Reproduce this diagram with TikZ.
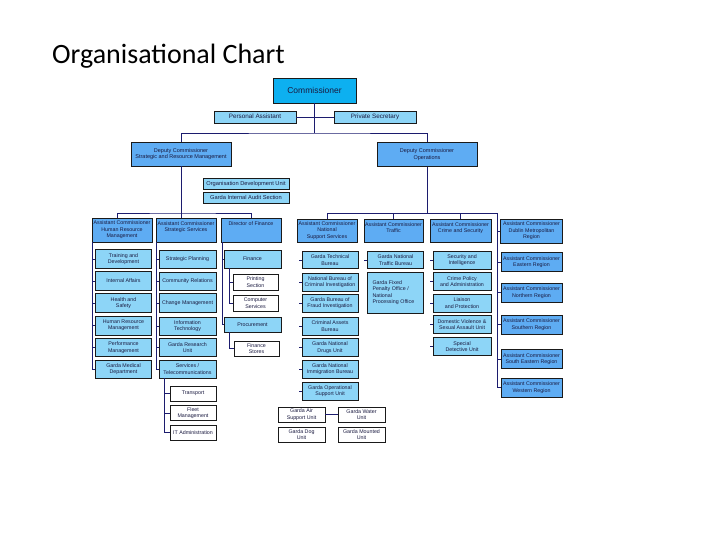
\documentclass[tikz,border=0pt]{standalone}
\usepackage{fontspec}
\setmainfont{Liberation Sans}
\newfontfamily\titlefont{Carlito}
\definecolor{cmfill}{HTML}{0DB0F0}
\definecolor{acfill}{HTML}{5EACF3}
\definecolor{lbfill}{HTML}{8DD5F7}
\definecolor{bdr}{HTML}{1A1A1A}
\definecolor{con}{HTML}{1C1C6E}
\definecolor{txt}{HTML}{1A1A40}
\newcommand{\fa}{\fontsize{5.3}{6.4}\selectfont}
\newcommand{\tp}[3]{\parbox[c][#1pt][t]{#2pt}{\centering\rule{0pt}{7.3pt}#3\par}}
\tikzset{
 ob/.style={draw=bdr, line width=0.45pt, inner sep=0pt, align=center, text=txt, font=\fa},
 lb/.style={ob, fill=lbfill},
 ac/.style={ob, fill=acfill},
 wb/.style={ob, fill=white},
 cn/.style={draw=con, line width=0.8pt},
 sz/.style 2 args={minimum width=#1pt, minimum height=#2pt},
 oneline/.style={text height=4.6pt, text depth=1.4pt},
}
\begin{document}
\begin{tikzpicture}[x=1pt,y=-1pt]
\useasboundingbox (0,0) rectangle (720,540);
\node[anchor=base west, font=\titlefont\fontsize{28}{32}\selectfont, inner sep=0pt] (title) at (52,63.5) {Organisational Chart};

% top
\node[ob, fill=cmfill, sz={83}{25}, font=\fontsize{8.5}{10}\selectfont] (comm) at (314.5,90.5) {Commissioner};
\node[lb, oneline, sz={82}{12}, font=\fontsize{6.3}{7}\selectfont] (pa) at (255,117) {Personal Assistant};
\node[lb, oneline, sz={82}{12}, font=\fontsize{6.3}{7}\selectfont] (ps) at (375,117) {Private Secretary};
\node[ac, sz={100}{24}, font=\fontsize{5.5}{6.8}\selectfont] (dcs) at (181,154) {Deputy Commissioner\\Strategic and Resource Management};
\node[ac, sz={100}{24}, font=\fontsize{5.5}{6.8}\selectfont] (dco) at (427,154.5) {Deputy Commissioner\\Operations};
\node[lb, oneline, sz={86}{11}, font=\fontsize{5.7}{6.5}\selectfont] (odu) at (246,183.5) {Organisation Development Unit};
\node[lb, oneline, sz={86}{11}, font=\fontsize{5.7}{6.5}\selectfont] (gias) at (246,197.5) {Garda Internal Audit Section};

\coordinate (b1) at (314.5,133);
\draw[cn] (comm.south) -- (b1);
\draw[cn] (pa.east) -- (ps.west);
\draw[cn] (dcs.north) |- (b1) -| (dco.north);

% strategic and resource management
\coordinate (b2) at (181,213);
\node[ac, sz={60}{24}] (hrm) at (122,230) {Assistant Commissioner\\Human Resource\\Management};
\node[ac, sz={60}{24}] (ss) at (186,230) {\tp{24}{60}{Assistant Commissioner\\Strategic Services}};
\node[ac, sz={60}{24}] (dof) at (251,230) {\tp{24}{60}{Director of Finance}};
\draw[cn] (dcs.south) -- (dcs.south |- ss.north);
\draw[cn] ([xshift=-5pt]hrm.north) |- (b2) -| (dof.north);

% HRM column
\node[lb, sz={56}{19}] (h1) at (123.5,259) {Training and\\Development};
\node[lb, sz={56}{19}] (h2) at (123.5,281) {Internal Affairs};
\node[lb, sz={56}{19}] (h3) at (123.5,303) {Health and\\Safety};
\node[lb, sz={56}{19}] (h4) at (123.5,325.5) {Human Resource\\Management};
\node[lb, sz={56}{18}] (h5) at (123.5,347.5) {Performance\\Management};
\node[lb, sz={56}{18}] (h6) at (123.5,369) {Garda Medical\\Department};
\draw[cn] ([xshift=1pt]hrm.south west) |- (h6.west);
\foreach \n in {h1,h2,h3,h4,h5} \draw[cn] (\n.west) -- ++(-2.5,0);

% strategic services column
\node[lb, sz={57}{18}] (s1) at (187.5,259) {Strategic Planning};
\node[lb, sz={57}{18}] (s2) at (187.5,281) {Community Relations};
\node[lb, sz={57}{19}] (s3) at (187.5,303) {Change Management};
\node[lb, sz={57}{18}] (s4) at (187.5,326) {Information\\Technology};
\node[lb, sz={57}{18}] (s5) at (187.5,347.5) {Garda Research\\Unit};
\node[lb, sz={57}{18}] (s6) at (187.5,369) {Services /\\Telecommunications};
\draw[cn] ([xshift=0.5pt]ss.south west) |- (s6.west);
\foreach \n in {s1,s2,s3,s4,s5} \draw[cn] (\n.west) -- ++(-2.5,0);
\node[wb, sz={46}{15}] (s7) at (193,393.5) {Transport};
\node[wb, sz={46}{15}] (s8) at (193,413) {Fleet\\Management};
\node[wb, sz={46}{15}] (s9) at (193,432.5) {IT Administration};
\draw[cn] ([xshift=6pt]s6.south west) |- (s9.west);
\foreach \n in {s7,s8} \draw[cn] (\n.west) -- ++(-5,0);

% finance column
\node[lb, sz={57}{18}] (fin) at (252.5,259) {Finance};
\node[wb, sz={45}{16}] (prt) at (255.5,282) {Printing\\Section};
\node[wb, sz={45}{16}] (cps) at (255.5,303) {Computer\\Services};
\node[lb, sz={57}{15}] (proc) at (252.5,324.5) {Procurement};
\node[wb, sz={45}{15}] (fst) at (256.5,348.5) {Finance\\Stores};
\draw[cn] ([xshift=1.5pt]dof.south west) |- (proc.west);
\draw[cn] (fin.west) -- ++(-1.5,0);
\draw[cn, line width=0.5pt] ([xshift=5.5pt]fin.south west) |- (cps.west);
\draw[cn, line width=0.5pt] (prt.west) -- ++(-3.5,0);
\draw[cn] ([xshift=5.5pt]proc.south west) |- (fst.west);

% operations
\coordinate (rv) at (497,213);
\node[ac, sz={60}{23}] (nss) at (327,230.5) {Assistant Commissioner\\National\\Support Services};
\node[ac, sz={59}{23}] (tr) at (393.5,230.5) {\tp{23}{59}{Assistant Commissioner\\Traffic}};
\node[ac, sz={61}{23}] (cs0) at (460.5,230.5) {\tp{23}{61}{Assistant Commissioner\\Crime and Security}};
\draw[cn] (dco.south) -- (dco.south |- rv);
\draw[cn] (tr.north) -- (tr.north |- rv);
\draw[cn] (cs0.north) -- (cs0.north |- rv);

% regions
\node[ac, sz={62}{24}] (dmr) at (531.5,231) {Assistant Commissioner\\Dublin Metropolitan\\Region};
\node[ac, sz={61}{19}] (er) at (531.5,262) {Assistant Commissioner\\Eastern Region};
\node[ac, sz={61}{19}] (nr) at (531.5,292.5) {Assistant Commissioner\\Northern Region};
\node[ac, sz={61}{19}] (sr) at (531.5,324.5) {Assistant Commissioner\\Southern Region};
\node[ac, sz={61}{19}] (ser) at (531.5,359) {Assistant Commissioner\\South Eastern Region};
\node[ac, sz={61}{19}] (wr) at (531.5,387.5) {Assistant Commissioner\\Western Region};
\draw[cn] (nss.north) |- (rv) |- (wr.west);
\foreach \n in {dmr,er,nr,sr,ser} \draw[cn] (\n.west) -- (\n.west -| rv);

% national support services column
\node[lb, sz={56}{17}] (n1) at (330,260) {Garda Technical\\Bureau};
\node[lb, sz={56}{18}] (n2) at (330,282) {National Bureau of\\Criminal Investigation};
\node[lb, sz={56}{18}] (n3) at (330,303) {Garda Bureau of\\Fraud Investigation};
\node[lb, sz={56}{18}] (n4) at (330,326) {Criminal Assets\\Bureau};
\node[lb, sz={56}{18}] (n5) at (330,347.5) {Garda National\\Drugs Unit};
\node[lb, sz={56}{18}] (n6) at (330,369) {Garda National\\Immigration Bureau};
\node[lb, sz={56}{18}] (n7) at (330,391) {Garda Operational\\Support Unit};
\foreach \n in {n1,n2,n3,n4,n5,n6,n7} \draw[cn, line width=0.6pt] (\n.west) -- ++(-3,0);

\node[wb, sz={47}{15}] (air) at (301.5,414.5) {Garda Air\\Support Unit};
\node[wb, sz={47}{15}] (wat) at (361.5,414.5) {Garda Water\\Unit};
\node[wb, sz={47}{15}] (dog) at (301.5,434.5) {Garda Dog\\Unit};
\node[wb, sz={47}{15}] (mnt) at (361.5,434.5) {Garda Mounted\\Unit};
\draw[cn] (air.east) -- (wat.west);

% traffic column
\node[lb, sz={56}{17}] (t1) at (395.5,260) {Garda National\\Traffic Bureau};
\node[lb, sz={56}{41}, align=left, text width=46pt] (t2) at (395.5,292.5) {Garda Fixed\\Penalty Office /\\National\\Processing Office};
\draw[cn, line width=0.6pt] (t1.west) -- ++(-3,0);

% crime and security column
\node[lb, sz={58}{18}] (c1) at (462,260) {Security and\\Intelligence};
\node[lb, sz={58}{18}] (c2) at (462,281.5) {Crime Policy\\and Administration};
\node[lb, sz={58}{18}] (c3) at (462,303) {Liaison\\and Protection};
\node[lb, sz={58}{18}] (c4) at (462,324.5) {Domestic Violence \&\\Sexual Assault Unit};
\node[lb, sz={58}{18}] (c5) at (462,346.5) {Special\\Detective Unit};
\foreach \n in {c1,c2,c3,c4,c5} \draw[cn, line width=0.6pt] (\n.west) -- ++(-3,0);
\end{tikzpicture}
\end{document}
